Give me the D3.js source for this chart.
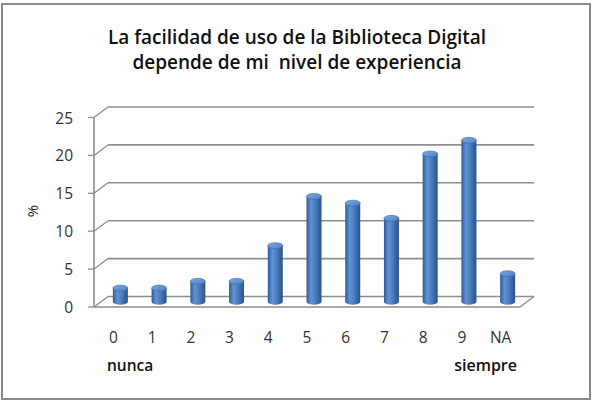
<!DOCTYPE html>
<html><head><meta charset="utf-8">
<script src="https://cdn.jsdelivr.net/npm/d3@7"></script>
<style>html,body{margin:0;padding:0;background:#fff;}svg{display:block;}text{white-space:pre;}</style>
</head><body>
<svg id="chart" width="596" height="406"></svg>
<script>
const categories = ["0","1","2","3","4","5","6","7","8","9","NA"];
const values = [1.8, 1.8, 2.7, 2.7, 7.4, 13.9, 13.0, 11.0, 19.5, 21.3, 3.7];
const yTicks = [0, 5, 10, 15, 20, 25];
const titleLines = ["La facilidad de uso de la Biblioteca Digital", "depende de mi  nivel de experiencia"];
const yLabel = "%";
const leftNote = "nunca", rightNote = "siempre";

const svg = d3.select("#chart");
const font = "'Open Sans', Lato, sans-serif";

// outer border
svg.append("rect").attr("x", 2).attr("y", 4).attr("width", 588).attr("height", 395)
  .attr("fill", "#fff").attr("stroke", "#8a8a8a").attr("stroke-width", 2);

// title
svg.append("g").selectAll("text").data(titleLines).join("text")
  .attr("x", 297).attr("y", (d, i) => 44 + i * 25)
  .attr("text-anchor", "middle").attr("font-family", font).attr("font-weight", 600)
  .attr("font-size", 19).attr("fill", "#111").text(d => d);

// 3D geometry
const DX = 14, DY = -10.5;
const xFront = d3.scaleBand().domain(categories).range([94, 520]);
const yFront = d3.scaleLinear().domain([0, 25]).range([307, 117.5]);
const gridColor = "#8e8e8e";

const g = svg.append("g");
yTicks.forEach(t => {
  const yf = yFront(t);
  g.append("line").attr("x1", 94 + DX).attr("x2", 520 + DX).attr("y1", yf + DY).attr("y2", yf + DY)
    .attr("stroke", gridColor).attr("stroke-width", 1.6);
  g.append("line").attr("x1", 94).attr("x2", 94 + DX).attr("y1", yf).attr("y2", yf + DY)
    .attr("stroke", gridColor).attr("stroke-width", 1.3);
  g.append("line").attr("x1", 88).attr("x2", 94).attr("y1", yf).attr("y2", yf)
    .attr("stroke", gridColor).attr("stroke-width", 1.3);
});
g.append("line").attr("x1", 94).attr("x2", 94).attr("y1", yFront(25)).attr("y2", yFront(0))
  .attr("stroke", gridColor).attr("stroke-width", 1.6);
g.append("line").attr("x1", 94).attr("x2", 520).attr("y1", yFront(0)).attr("y2", yFront(0))
  .attr("stroke", gridColor).attr("stroke-width", 1.6);
g.append("line").attr("x1", 520).attr("x2", 520 + DX).attr("y1", yFront(0)).attr("y2", yFront(0) + DY)
  .attr("stroke", gridColor).attr("stroke-width", 1.3);

// y tick labels
svg.append("g").selectAll("text").data(yTicks).join("text")
  .attr("x", 73).attr("y", d => yFront(d) + 6).attr("text-anchor", "end")
  .attr("font-family", font).attr("font-size", 15.5).attr("fill", "#333").text(d => d);

// y label
svg.append("text").attr("transform", "translate(38,211) rotate(-90)")
  .attr("text-anchor", "middle").attr("font-family", font).attr("font-size", 15)
  .attr("fill", "#222").text(yLabel);

// x labels
svg.append("g").selectAll("text").data(categories).join("text")
  .attr("x", d => xFront(d) + xFront.bandwidth() / 2).attr("y", 343)
  .attr("text-anchor", "middle").attr("font-family", font).attr("font-size", 15.5)
  .attr("fill", "#333").text(d => d);

svg.append("text").attr("x", 107).attr("y", 371).attr("font-family", font)
  .attr("font-weight", 600).attr("font-size", 15.5).attr("fill", "#111").text(leftNote);
svg.append("text").attr("x", 517).attr("y", 371).attr("text-anchor", "end").attr("font-family", font)
  .attr("font-weight", 600).attr("font-size", 16).attr("fill", "#111").text(rightNote);

// cylinder gradients
const defs = svg.append("defs");
const grad = defs.append("linearGradient").attr("id", "cyl").attr("x1", 0).attr("x2", 1).attr("y1", 0).attr("y2", 0);
[[0, "#2e5b96"], [0.3, "#5f93d4"], [0.55, "#4d80c2"], [1, "#2a5288"]].forEach(([o, c]) =>
  grad.append("stop").attr("offset", o).attr("stop-color", c));
const gradTop = defs.append("linearGradient").attr("id", "cylTop").attr("x1", 0).attr("x2", 1).attr("y1", 0).attr("y2", 1);
[[0, "#7fa9e0"], [1, "#4d7fc0"]].forEach(([o, c]) =>
  gradTop.append("stop").attr("offset", o).attr("stop-color", c));

// bars (cylinders at mid-depth)
const bw = 15, ry = 3;
const data = categories.map((c, i) => ({ c, v: values[i] }));
const bars = svg.append("g").selectAll("g").data(data).join("g");
const cx = d => xFront(d.c) + xFront.bandwidth() / 2 + DX / 2;
const yMid = v => yFront(v) + DY / 2;
bars.append("path").attr("d", d => {
  const x0 = cx(d) - bw / 2, x1 = cx(d) + bw / 2, yt = yMid(d.v), yb = yMid(0);
  return `M${x0},${yt} L${x0},${yb} A${bw / 2},${ry} 0 0 0 ${x1},${yb} L${x1},${yt} Z`;
}).attr("fill", "url(#cyl)");
bars.append("ellipse").attr("cx", cx).attr("cy", d => yMid(d.v))
  .attr("rx", bw / 2).attr("ry", ry).attr("fill", "url(#cylTop)")
  .attr("stroke", "#3a68a6").attr("stroke-width", 0.6);
</script>
</body></html>
